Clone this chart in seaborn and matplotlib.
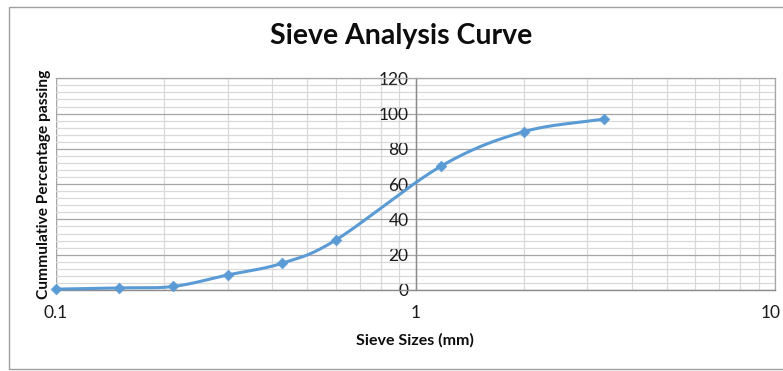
import numpy as np
import pandas as pd
import matplotlib
matplotlib.use("Agg")
import matplotlib.pyplot as plt
import seaborn as sns
import matplotlib.transforms as mtransforms
from matplotlib.ticker import FixedLocator, NullFormatter, LogLocator
from matplotlib.patches import Rectangle

sieve_sizes = [0.1, 0.15, 0.212, 0.3, 0.425, 0.6, 1.18, 2.0, 3.35]
percent_passing = [0.5, 1.2, 2.0, 8.5, 15.1, 28.3, 70.3, 89.7, 96.9]
x_tick_labels = ["0.1", "1", "10"]
y_ticks = [0, 20, 40, 60, 80, 100, 120]

title = "Sieve Analysis Curve"
xlabel = "Sieve Sizes (mm)"
ylabel = "Cummulative Percentage passing"

sns.set_theme(style="white")
plt.rcParams["font.family"] = ["Lato", "DejaVu Sans"]

fig = plt.figure(figsize=(7.83, 3.71), dpi=100)
ax = fig.add_axes([56/783, 1-290/371, (775-56)/783, (290-78.3)/371])

# smooth curve (Catmull-Rom in log-x space) through the data points
lx = np.log10(np.array(sieve_sizes))
yy = np.array(percent_passing)
P = np.column_stack([lx, yy])
Pp = np.vstack([P[0] - (P[1]-P[0]), P, P[-1] + (P[-1]-P[-2])])
cx, cy = [], []
for i in range(1, len(Pp)-2):
    p0, p1, p2, p3 = Pp[i-1], Pp[i], Pp[i+1], Pp[i+2]
    t = np.linspace(0, 1, 30)[:, None]
    m1 = (p2 - p0) / 2
    m2 = (p3 - p1) / 2
    h00 = 2*t**3 - 3*t**2 + 1
    h10 = t**3 - 2*t**2 + t
    h01 = -2*t**3 + 3*t**2
    h11 = t**3 - t**2
    seg = h00*p1 + h10*m1 + h01*p2 + h11*m2
    cx.extend(seg[:, 0]); cy.extend(seg[:, 1])
curve = pd.DataFrame({"x": 10**np.array(cx), "y": np.array(cy)})
pts = pd.DataFrame({"x": sieve_sizes, "y": percent_passing})

ax.set_xscale("log")
sns.lineplot(data=curve, x="x", y="y", ax=ax, color="#5B9BD5", lw=2.2,
             sort=False, estimator=None, zorder=4, clip_on=False)
sns.scatterplot(data=pts, x="x", y="y", ax=ax, color="#5B9BD5", marker="D",
                s=30, edgecolor="#5B9BD5", zorder=5, clip_on=False)

ax.set_xlim(0.1, 10)
ax.set_ylim(0, 120)

# grid
ax.xaxis.set_major_locator(FixedLocator([0.1, 1, 10]))
ax.xaxis.set_minor_locator(LogLocator(base=10, subs=np.arange(2, 10)))
ax.xaxis.set_minor_formatter(NullFormatter())
ax.set_xticks([0.1, 1, 10])
ax.set_xticklabels(x_tick_labels)
ax.set_yticks(y_ticks)
ax.set_yticks(np.arange(0, 121, 4), minor=True)
ax.grid(which="major", axis="both", color="#a6a6a6", lw=0.9)
ax.grid(which="minor", axis="both", color="#d9d9d9", lw=0.9)
ax.set_axisbelow(True)

for s in ["top", "right"]:
    ax.spines[s].set_color("#a6a6a6"); ax.spines[s].set_linewidth(0.9)
ax.spines["bottom"].set_color("#8c8c8c"); ax.spines["bottom"].set_linewidth(1.0)
ax.spines["left"].set_position(("data", 1))
ax.spines["left"].set_color("#8c8c8c"); ax.spines["left"].set_linewidth(1.0)
ax.axvline(0.1, color="#a6a6a6", lw=0.9, zorder=0.5)

ax.tick_params(axis="x", which="major", direction="out", length=5, width=1,
               color="#8c8c8c", labelsize=12.5, pad=6, labelcolor="#1a1a1a")
ax.tick_params(axis="x", which="minor", length=0)
ax.tick_params(axis="y", which="major", direction="out", length=0,
               labelsize=12.5, pad=5, labelcolor="#1a1a1a")
ax.tick_params(axis="y", which="minor", length=0)
ax.set_xlabel("")
ax.set_ylabel("")

# keep the last x tick label flush with the right edge
last = ax.get_xticklabels()[-1]
last.set_horizontalalignment("right")
last.set_transform(last.get_transform() +
                   mtransforms.ScaledTranslation(6/100, 0, fig.dpi_scale_trans))

fig.text(401/783, 1-36/371, title, ha="center", va="center",
         fontsize=20.5, fontweight="bold", color="#0d0d0d")
fig.text(415/783, 1-340/371, xlabel, ha="center", va="center",
         fontsize=11.5, fontweight="bold", color="#0d0d0d")
fig.text(44/783, 1-184/371, ylabel, ha="center", va="center", rotation=90,
         fontsize=11.2, fontweight="bold", color="#0d0d0d")

fig.patches.append(Rectangle((9/783, 2/371), 1.0, 1-9/371, transform=fig.transFigure,
                             fill=False, edgecolor="#a0a0a0", lw=1.0))

fig.savefig("out.png", dpi=100)
